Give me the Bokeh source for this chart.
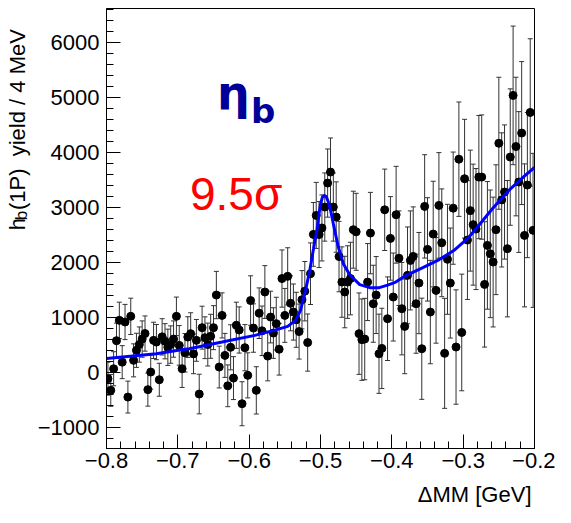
import numpy as np
from math import pi
from bokeh.plotting import figure
from bokeh.layouts import row, column
from bokeh.models import (ColumnDataSource, Range1d, FixedTicker, Whisker, TeeHead, Label)
from bokeh.embed import file_html
from bokeh.resources import INLINE

# ---- data ----
bin_start = -0.8
bin_width = 0.004
yields = [
    -120, -333, 60, 570, 940, 180, 910, -455, 1013, 213,
    395, 500, 600, 700, -320, 0, 576, 545, -140, 640,
    560, 450, 500, 600, 1013, 485, 60, 350, 636, 698,
    330, 576, -400, 807, 624, 500, 650, 807, 1400, 91,
    1030, 303, -250, 450, -110, 850, 765, -576, 443, -60,
    1300, 800, -333, 1070, 750, 1455, 290, 1000, 709, 880,
    415, 1700, 1030, 1740, 1250, 1091, 950, 736, 1315, 1470,
    536, 1788, 2503, 2848, 2500, 2620, 3000, 3436, 3636, 3000,
    2818, 2100, 1636, 1455, 1636, 1700, 2588, 2550, 698, 589,
    600, 1636, 2527, 1242, 1400, 333, 430, 2950, 970, 2430,
    1364, 2860, 2070, 1152, 830, 1758, 2030, 2103, 1242, 1618,
    424, 3012, 2230, 1091, 2509, 1485, 3030, 2350, 340, 2050,
    1618, 2980, 455, 3870, 720, 3515, 2400, 2935, 2680, 2600,
    3545, 3545, 1594, 2303, 2150, 2000, 2588, 4160, 3130, 3273,
    2243, 3909, 5030, 4100, 3455, 4345, 2485, 3400, 4720, 2576,
]
errors = [
    300, 290, 310, 320, 330, 300, 320, 290, 330, 300, 310, 320, 330, 320, 300, 310, 330, 320, 300, 330, 320, 330, 340, 330, 350,
    360, 340, 350, 370, 380, 360, 380, 360, 390, 380, 390, 400, 400, 430, 380, 410, 400, 380, 410, 390, 420, 420, 400, 420, 410,
    450, 440, 430, 460, 450, 480, 450, 470, 460, 480, 470, 520, 490, 520, 500, 510, 500, 500, 530, 540, 520, 560, 580, 600, 600,
    600, 620, 620, 620, 620, 640, 640, 640, 650, 660, 660, 700, 700, 740, 740, 740, 700, 740, 700, 700, 720, 730, 740, 760, 760,
    800, 880, 860, 840, 860, 880, 900, 900, 900, 920, 920, 940, 940, 940, 960, 960, 960, 980, 1000, 1000, 1000, 1020, 1040, 1040, 1060,
    1080, 1080, 1100, 1100, 1100, 1120, 1130, 1140, 1160, 1160, 1180, 1180, 1200, 1220, 1220, 1240, 1240, 1260, 1260, 1280, 1300, 1300, 1320, 1340, 1400,
]
fit_x = [-0.800, -0.730, -0.695, -0.684, -0.638, -0.592, -0.565, -0.546, -0.535, -0.528,
         -0.521, -0.515, -0.5097, -0.5075, -0.505, -0.5025, -0.500, -0.4975, -0.495, -0.492,
         -0.489, -0.4855, -0.482, -0.4785, -0.475, -0.468, -0.459, -0.445, -0.431, -0.4175,
         -0.406, -0.3945, -0.381, -0.358, -0.3335, -0.312, -0.294, -0.282, -0.259, -0.236,
         -0.213, -0.200]
fit_y = [245, 333, 405, 424, 545, 667, 758, 830, 940, 1121,
         1485, 1850, 2250, 2420, 2576, 2830, 3050, 3170, 3212, 3190,
         3091, 2920, 2697, 2480, 2273, 1970, 1770, 1590, 1535, 1535,
         1580, 1636, 1750, 1890, 2045, 2220, 2424, 2606, 2970, 3303,
         3576, 3720]
x_ticks = [-0.8, -0.7, -0.6, -0.5, -0.4, -0.3, -0.2]
y_ticks = [-1000, 0, 1000, 2000, 3000, 4000, 5000, 6000]

centers = bin_start + bin_width * (np.arange(len(yields)) + 0.5)
yv = np.array(yields, dtype=float)
ev = np.array(errors, dtype=float)
src = ColumnDataSource(dict(x=centers, y=yv, lo=yv - ev, hi=yv + ev))

FONT = "Liberation Sans"
TOP_H = 478

p = figure(width=521, height=TOP_H, x_range=Range1d(-0.8, -0.2), y_range=Range1d(-1390, 6610),
           output_backend="svg", toolbar_location=None,
           min_border_left=68, min_border_right=21, min_border_top=8, min_border_bottom=30)
p.grid.visible = False
p.outline_line_color = "black"
p.outline_line_width = 1
p.background_fill_color = "white"
p.border_fill_color = "white"

for ax in (p.xaxis[0], p.yaxis[0]):
    ax.major_tick_in = 14
    ax.major_tick_out = 0
    ax.minor_tick_in = 7
    ax.minor_tick_out = 0
    ax.axis_line_color = "black"
    ax.major_tick_line_color = "black"
    ax.minor_tick_line_color = "black"
    ax.major_label_text_font = FONT
    ax.major_label_text_font_size = "22px"
    ax.major_label_text_color = "black"

p.xaxis[0].ticker = FixedTicker(ticks=x_ticks, minor_ticks=list(np.round(np.arange(-0.8, -0.199, 0.02), 3)))
p.yaxis[0].ticker = FixedTicker(ticks=y_ticks, minor_ticks=list(range(-1200, 6601, 200)))
p.xaxis[0].major_label_standoff = 4
p.yaxis[0].major_label_standoff = 7

wh = Whisker(source=src, base="x", lower="lo", upper="hi", line_color="#333333", line_width=1,
             upper_head=TeeHead(size=5, line_color="#333333", line_width=1),
             lower_head=TeeHead(size=5, line_color="#333333", line_width=1))
p.add_layout(wh)
p.scatter("x", "y", source=src, size=8, color="black")
p.line(fit_x, fit_y, line_color="#0000ff", line_width=3)

# annotations inside the frame
p.add_layout(Label(x=-0.645, y=5070, text="η", text_font="DejaVu Sans", text_font_style="bold",
                   text_font_size="46px", text_color="#000099", text_baseline="alphabetic"))
p.add_layout(Label(x=-0.5975, y=4740, text="b", text_font="DejaVu Sans", text_font_style="bold",
                   text_font_size="34px", text_color="#000099", text_baseline="alphabetic"))
p.add_layout(Label(x=-0.683, y=3230, text="9.5σ", text_font=FONT,
                   text_font_size="46px", text_color="#ff0000", text_baseline="alphabetic"))

# y axis title in a narrow side panel
yfig = figure(width=34, height=TOP_H, x_range=Range1d(0, 34), y_range=Range1d(0, TOP_H),
              x_axis_type=None, y_axis_type=None, output_backend="svg", toolbar_location=None,
              min_border=0, outline_line_color=None)
yfig.add_layout(Label(x=17, y=237, text="h", angle=pi/2, text_font=FONT,
                      text_font_size="22px", text_color="black", text_baseline="alphabetic"))
yfig.add_layout(Label(x=21, y=248, text="b", angle=pi/2, text_font=FONT,
                      text_font_size="17px", text_color="black", text_baseline="alphabetic"))
yfig.add_layout(Label(x=17, y=259, text="(1P)\u00a0\u00a0yield / 4 MeV", angle=pi/2, text_font=FONT,
                      text_font_size="22px", text_color="black", text_baseline="alphabetic"))

# x axis title in a thin bottom panel
xfig = figure(width=555, height=29, x_range=Range1d(0, 555), y_range=Range1d(0, 29),
              x_axis_type=None, y_axis_type=None, output_backend="svg", toolbar_location=None,
              min_border=0, outline_line_color=None)
xfig.add_layout(Label(x=531, y=13, text="ΔMM [GeV]", text_font=FONT, text_font_size="22px",
                      text_color="black", text_baseline="alphabetic", text_align="right"))

layout = column(row(yfig, p), xfig)
open("out.html", "w").write(file_html(layout, INLINE))
